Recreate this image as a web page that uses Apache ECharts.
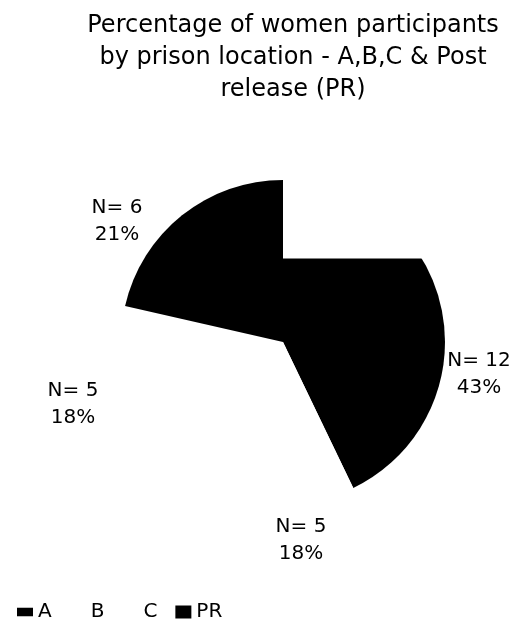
<!DOCTYPE html>
<html><head><meta charset="utf-8">
<script src="https://cdn.jsdelivr.net/npm/echarts@6/dist/echarts.min.js"></script>
<style>html,body{margin:0;padding:0;background:#fff}#c{width:509px;height:622px}</style>
</head><body><div id="c"></div>
<script>
var categories = ['A', 'B', 'C', 'PR'];
var counts = [12, 5, 5, 6];
var sliceColors = ['#000000', '#ffffff', '#ffffff', '#000000'];
var titleText = 'Percentage of women participants\nby prison location - A,B,C & Post\nrelease (PR)';

// label centre offsets from the pie centre (layout only)
var labelOffsets = [[196, 32], [18, 198], [-210, 62], [-166, -121]];

var cx = 283, cy = 342, R = 162;
var chart = echarts.init(document.getElementById('c'));
var data = categories.map(function (n, i) {
  return { name: n, value: counts[i], itemStyle: { color: sliceColors[i] } };
});
var font = 'DejaVu Sans';
chart.setOption({
  animation: false,
  backgroundColor: '#fff',
  textStyle: { fontFamily: font },
  title: {
    text: titleText, left: 293, top: 10, textAlign: 'center', padding: 0,
    textStyle: { fontFamily: font, fontWeight: 'normal', fontSize: 24, lineHeight: 32, color: '#000' }
  },
  legend: {
    left: 12, top: 597, itemWidth: 16, itemHeight: 13, itemGap: 18,
    textStyle: { fontFamily: font, fontSize: 20, color: '#000' },
    data: [
      { name: 'A', icon: 'path://M0,0H15V8H0Z' },
      { name: 'B', icon: 'rect' },
      { name: 'C', icon: 'rect' },
      { name: 'PR', icon: 'rect' }
    ]
  },
  series: [{
    type: 'pie', center: [cx, cy], radius: R, startAngle: 90, clockwise: true,
    percentPrecision: 0,
    data: data,
    label: {
      show: true, position: 'outside', formatter: 'N= {c}\n{d}%', overflow: 'none',
      fontFamily: font, fontSize: 20, lineHeight: 27, color: '#000', align: 'center'
    },
    labelLine: { show: false },
    labelLayout: function (p) {
      var o = labelOffsets[p.dataIndex];
      return { x: cx + o[0], y: cy + o[1], align: 'center', verticalAlign: 'middle' };
    },
    emphasis: { disabled: true }
  }],
  graphic: [{
    type: 'rect', z: 10,
    shape: { x: cx, y: cy - R - 4, width: R + 6, height: R - R * 0.516 + 4 },
    style: { fill: '#fff' }
  }]
});
</script></body></html>
